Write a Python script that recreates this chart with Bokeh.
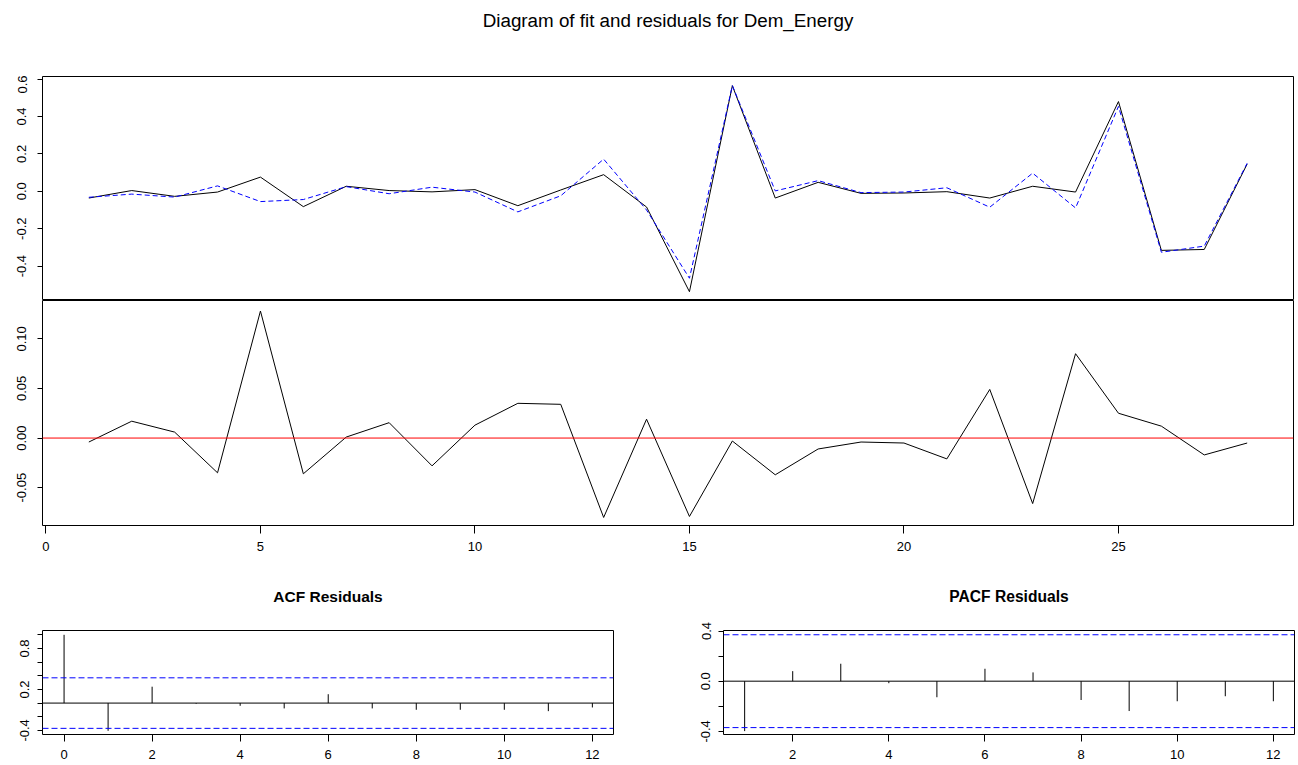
from bokeh.plotting import figure
from bokeh.models import Range1d, FixedTicker, PrintfTickFormatter, CustomJSTickFormatter, Span
from bokeh.core.properties import value
from bokeh.layouts import column, row
from bokeh.embed import file_html
from bokeh.resources import INLINE

# ---------------- data ----------------
time_idx = list(range(1, 29))
actual = [-0.036, 0.004, -0.027, -0.004, 0.076, -0.082, 0.027, 0.004, -0.003, 0.009,
          -0.077, 0.007, 0.089, -0.084, -0.537, 0.565, -0.036, 0.048, -0.011, -0.009,
          -0.002, -0.036, 0.027, -0.004, 0.480, -0.316, -0.311, 0.146]
fitted = [-0.032, -0.015, -0.031, 0.029, -0.055, -0.044, 0.025, -0.013, 0.022, -0.004,
          -0.110, -0.024, 0.172, -0.100, -0.465, 0.566, 0.002, 0.057, -0.007, -0.004,
          0.019, -0.085, 0.097, -0.089, 0.454, -0.326, -0.293, 0.150]
residuals = [-0.004, 0.017, 0.006, -0.035, 0.128, -0.036, 0.001, 0.0155, -0.028, 0.013,
             0.035, 0.034, -0.080, 0.019, -0.079, -0.003, -0.037, -0.011, -0.004, -0.005,
             -0.021, 0.049, -0.066, 0.085, 0.025, 0.012, -0.017, -0.005]
acf_lags = list(range(0, 13))
acf_vals = [1.0, -0.406, 0.24, -0.01, -0.04, -0.078, 0.13, -0.078, -0.098, -0.098, -0.098, -0.118, -0.064]
pacf_lags = list(range(1, 13))
pacf_vals = [-0.398, 0.08, 0.139, -0.016, -0.128, 0.099, 0.07, -0.15, -0.238, -0.16, -0.12, -0.16]
conf_limit = 0.37

main_title = "Diagram of fit and residuals for Dem_Energy"
acf_title = "ACF Residuals"
pacf_title = "PACF Residuals"

top_yticks = [-0.4, -0.2, 0.0, 0.2, 0.4, 0.6]
mid_yticks = [-0.05, 0.0, 0.05, 0.10]
mid_xticks = [0, 5, 10, 15, 20, 25]
acf_yticks = [-0.4, -0.2, 0.0, 0.2, 0.4, 0.6, 0.8, 1.0]
acf_ylabels = [-0.4, 0.2, 0.8]
acf_xticks = [0, 2, 4, 6, 8, 10, 12]
pacf_yticks = [-0.4, -0.2, 0.0, 0.2, 0.4]
pacf_ylabels = [-0.4, 0.0, 0.4]
pacf_xticks = [2, 4, 6, 8, 10, 12]

FONT = "Liberation Sans"
TICK_FS = "13px"


def base_style(p):
    p.xgrid.visible = False
    p.ygrid.visible = False
    p.outline_line_color = "black"
    p.outline_line_width = 1
    p.outline_line_alpha = 1
    p.background_fill_color = "white"
    p.border_fill_color = "white"


def style_axis(ax, ticks, tick_out, standoff, orient=None):
    ax.ticker = FixedTicker(ticks=ticks)
    ax.bounds = (min(ticks), max(ticks))
    ax.axis_line_color = "black"
    ax.major_tick_line_color = "black"
    ax.major_tick_out = tick_out
    ax.major_tick_in = 0
    ax.minor_tick_line_color = None
    ax.major_label_text_font = FONT
    ax.major_label_text_font_size = TICK_FS
    ax.major_label_text_color = "black"
    ax.major_label_standoff = standoff
    if orient is not None:
        ax.major_label_orientation = orient


def sparse_formatter(keep, digits):
    return CustomJSTickFormatter(
        args=dict(keep=keep),
        code="for (const k of keep) { if (Math.abs(k - tick) < 1e-9) { return tick.toFixed(%d); } } return '';" % digits)


def text_strip(width, height, left, right, label, size, style, y_frac):
    f = figure(width=width, height=height, x_range=Range1d(0, 1), y_range=Range1d(0, 1),
               output_backend="svg", toolbar_location=None,
               x_axis_location=None, y_axis_location=None,
               min_border_left=left, min_border_right=right, min_border_top=0, min_border_bottom=0)
    f.xgrid.visible = False
    f.ygrid.visible = False
    f.outline_line_color = None
    f.background_fill_color = "white"
    f.border_fill_color = "white"
    f.text(x=[0.5], y=[y_frac], text=[label], text_align="center", text_baseline="middle",
           text_font=value(FONT), text_font_size=value(size), text_font_style=style,
           text_color="black")
    return f


# ---------------- main title ----------------
title_fig = text_strip(1298, 75, 42, 5, main_title, "18.8px", "normal", (75 - 20) / 75)

# ---------------- top panel: fit ----------------
p1 = figure(width=1298, height=225,
            x_range=Range1d(-0.08, 29.08), y_range=Range1d(-0.584, 0.614),
            output_backend="svg", toolbar_location=None, x_axis_location=None,
            min_border_left=42, min_border_right=5, min_border_top=1, min_border_bottom=0)
base_style(p1)
style_axis(p1.yaxis[0], top_yticks, 5, 11, "vertical")
p1.yaxis[0].formatter = PrintfTickFormatter(format="%.1f")
p1.line(time_idx, actual, line_color="black", line_width=1)
p1.line(time_idx, fitted, line_color="blue", line_width=1, line_dash="5 3")

# ---------------- middle panel: residuals ----------------
p2 = figure(width=1298, height=281,
            x_range=Range1d(-0.08, 29.08), y_range=Range1d(-0.0881, 0.1386),
            output_backend="svg", toolbar_location=None,
            min_border_left=42, min_border_right=5, min_border_top=0, min_border_bottom=56)
base_style(p2)
style_axis(p2.yaxis[0], mid_yticks, 5, 11, "vertical")
p2.yaxis[0].formatter = PrintfTickFormatter(format="%.2f")
style_axis(p2.xaxis[0], mid_xticks, 8, 8)
p2.line(time_idx, residuals, line_color="black", line_width=1)
p2.add_layout(Span(location=0, dimension="width", line_color="red", line_width=1))

# ---------------- subtitles ----------------
sub_acf = text_strip(650, 40, 42, 37, acf_title, "15.5px", "bold", (40 - 15) / 40)
sub_pacf = text_strip(648, 40, 73, 4, pacf_title, "15.6px", "bold", (40 - 15) / 40)

# ---------------- ACF ----------------
p3 = figure(width=650, height=144,
            x_range=Range1d(-0.49, 12.48), y_range=Range1d(-0.46, 1.063),
            output_backend="svg", toolbar_location=None,
            min_border_left=42, min_border_right=37, min_border_top=9, min_border_bottom=31)
base_style(p3)
style_axis(p3.yaxis[0], acf_yticks, 5, 8, "vertical")
p3.yaxis[0].formatter = sparse_formatter(acf_ylabels, 1)
style_axis(p3.xaxis[0], acf_xticks, 7, 8)
p3.segment(x0=acf_lags, y0=[0] * len(acf_lags), x1=acf_lags, y1=acf_vals, line_color="black", line_width=1)
p3.add_layout(Span(location=0, dimension="width", line_color="black", line_width=1))
p3.add_layout(Span(location=conf_limit, dimension="width", line_color="blue", line_width=1, line_dash="6 3"))
p3.add_layout(Span(location=-conf_limit, dimension="width", line_color="blue", line_width=1, line_dash="6 3"))

# ---------------- PACF ----------------
p4 = figure(width=648, height=144,
            x_range=Range1d(0.56, 12.44), y_range=Range1d(-0.425, 0.404),
            output_backend="svg", toolbar_location=None,
            min_border_left=73, min_border_right=4, min_border_top=9, min_border_bottom=31)
base_style(p4)
style_axis(p4.yaxis[0], pacf_yticks, 5, 8, "vertical")
p4.yaxis[0].formatter = sparse_formatter(pacf_ylabels, 1)
style_axis(p4.xaxis[0], pacf_xticks, 7, 8)
p4.segment(x0=pacf_lags, y0=[0] * len(pacf_lags), x1=pacf_lags, y1=pacf_vals, line_color="black", line_width=1)
p4.add_layout(Span(location=0, dimension="width", line_color="black", line_width=1))
p4.add_layout(Span(location=conf_limit, dimension="width", line_color="blue", line_width=1, line_dash="6 3"))
p4.add_layout(Span(location=-conf_limit, dimension="width", line_color="blue", line_width=1, line_dash="6 3"))

layout = column(title_fig, p1, p2,
                row(column(sub_acf, p3, spacing=0), column(sub_pacf, p4, spacing=0), spacing=0),
                spacing=0)

open("out.html", "w").write(file_html(layout, INLINE))
